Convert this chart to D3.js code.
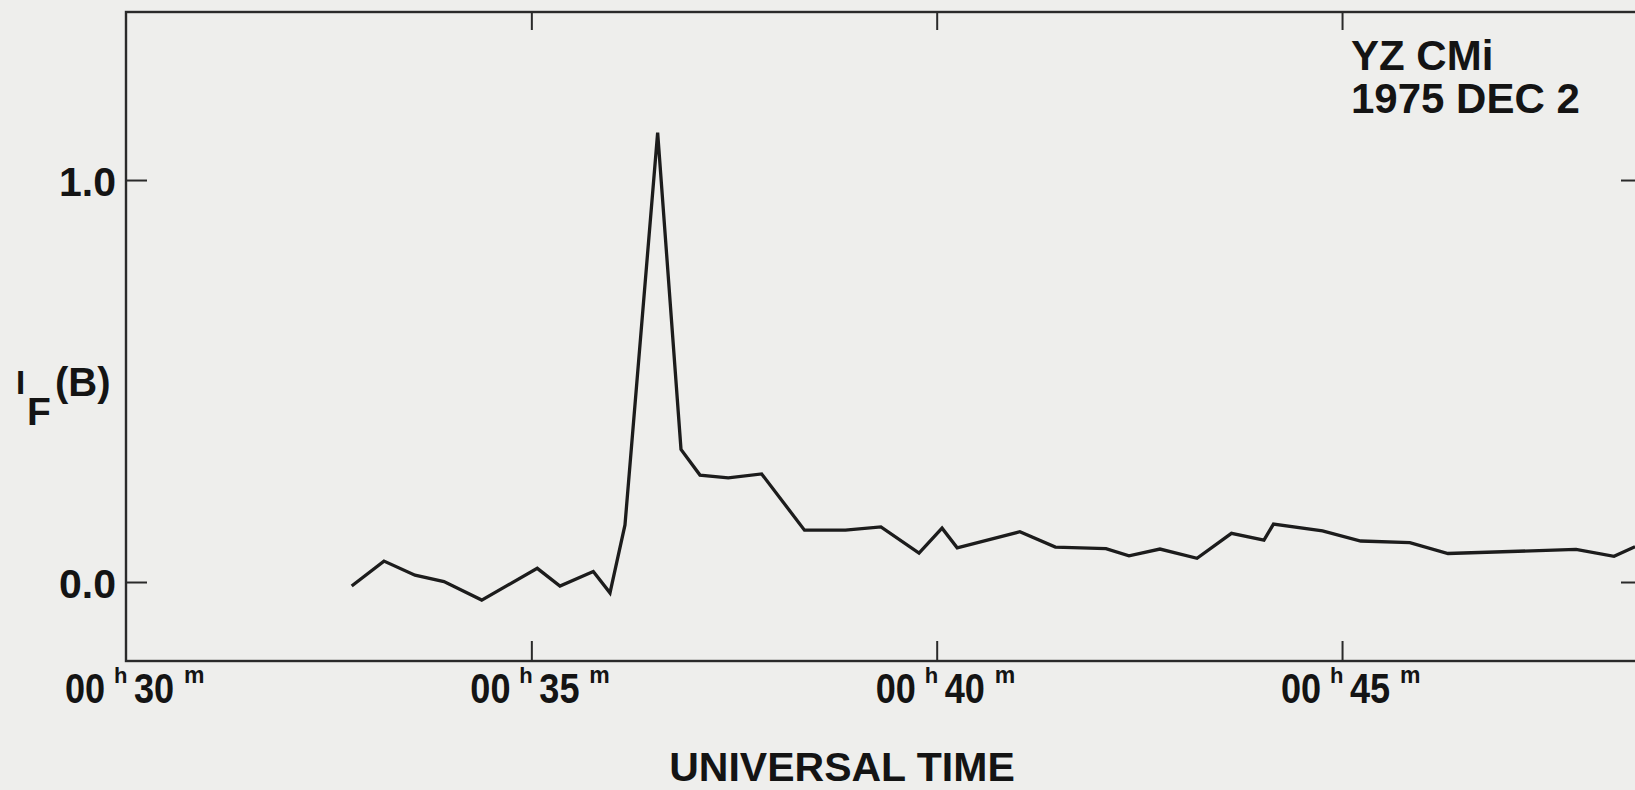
<!DOCTYPE html>
<html>
<head>
<meta charset="utf-8">
<script src="https://cdn.jsdelivr.net/npm/d3@7"></script>
<style>
  html, body { margin: 0; padding: 0; background: #eeeeec; }
  svg { display: block; }
  text { fill: #141414; }
</style>
</head>
<body>
<svg id="chart" width="1635" height="790"></svg>
<script>
// ---- data ----
// time in minutes after 00h UT
const minutes = [32.784, 33.182, 33.565, 33.922, 34.388, 35.073, 35.353, 35.764, 35.970, 36.155,
                 36.558, 36.846, 37.080, 37.429, 37.841, 38.369, 38.874, 39.312, 39.782, 40.066,
                 40.253, 41.026, 41.464, 42.088, 42.372, 42.754, 43.211, 43.636, 44.037, 44.154,
                 44.759, 45.230, 45.836, 46.307, 47.886, 48.355, 48.614];
const intensity = [-0.010, 0.052, 0.017, 0.001, -0.045, 0.034, -0.010, 0.026, -0.027, 0.142,
                   1.118, 0.330, 0.266, 0.259, 0.269, 0.129, 0.129, 0.137, 0.072, 0.134,
                   0.085, 0.125, 0.087, 0.083, 0.065, 0.082, 0.059, 0.121, 0.104, 0.144,
                   0.127, 0.102, 0.098, 0.071, 0.081, 0.064, 0.088];

const xTickMinutes = [35, 40, 45];
const xLabelMinutes = [30, 35, 40, 45];
const xLabelHours = ["00", "00", "00", "00"];
const xLabelMins = ["30", "35", "40", "45"];
const yTickValues = [0.0, 1.0];
const yTickLabels = ["0.0", "1.0"];
const titleLines = ["YZ CMi", "1975 DEC 2"];
const xTitle = "UNIVERSAL TIME";

// ---- layout ----
const L = 126, R = 1642, T = 12, B = 661;
const x = d3.scaleLinear().domain([30, 48.70]).range([L, R]);
const y = d3.scaleLinear().domain([-0.1965, 1.418]).range([B, T]);

const svg = d3.select("#chart");
const ink = "#1c1c1c";
const FONT = "'Liberation Sans', Arial, Helvetica, sans-serif";

svg.append("defs").append("clipPath").attr("id", "plotclip")
  .append("rect").attr("x", L).attr("y", T).attr("width", R - L).attr("height", B - T);

// frame
svg.append("rect").attr("x", L).attr("y", T).attr("width", R - L).attr("height", B - T)
  .attr("fill", "none").attr("stroke", "#2a2a2a").attr("stroke-width", 2.4);

function styleAxis(g) {
  g.select(".domain").remove();
  g.selectAll(".tick line").attr("stroke", "#2a2a2a").attr("stroke-width", 2);
}

svg.append("g").attr("transform", `translate(0,${B})`)
  .call(d3.axisBottom(x).tickValues(xTickMinutes).tickSize(-20).tickFormat(""))
  .call(styleAxis);
svg.append("g").attr("transform", `translate(0,${T})`)
  .call(d3.axisTop(x).tickValues(xTickMinutes).tickSize(-18).tickFormat(""))
  .call(styleAxis);
svg.append("g").attr("transform", `translate(${L},0)`)
  .call(d3.axisLeft(y).tickValues(yTickValues).tickSize(-21).tickFormat(""))
  .call(styleAxis);
svg.append("g").attr("transform", `translate(${R},0)`)
  .call(d3.axisRight(y).tickValues(yTickValues).tickSize(-21).tickFormat(""))
  .call(styleAxis);

// y tick labels
svg.append("g").selectAll("text").data(yTickValues).join("text")
  .attr("x", L - 10).attr("y", d => y(d) + 16)
  .attr("text-anchor", "end")
  .attr("font-family", FONT).attr("font-weight", "bold").attr("font-size", 41)
  .text((d, i) => yTickLabels[i]);

// x tick labels: 00^h 30^m (condensed digits, superscript units)
const sx = 0.86;
const baseY = B + 42;
const lab = svg.append("g").selectAll("g").data(xLabelMinutes).join("g")
  .attr("transform", d => `translate(${x(d)},0)`)
  .attr("font-family", FONT);
lab.append("text")
  .attr("transform", `translate(-61,${baseY}) scale(${sx},1)`)
  .attr("font-size", 42).attr("font-weight", "bold")
  .text((d, i) => xLabelHours[i]);
lab.append("text")
  .attr("x", -12).attr("y", baseY - 20)
  .attr("font-size", 22).attr("font-weight", "bold")
  .text("h");
lab.append("text")
  .attr("transform", `translate(8,${baseY}) scale(${sx},1)`)
  .attr("font-size", 42).attr("font-weight", "bold")
  .text((d, i) => xLabelMins[i]);
lab.append("text")
  .attr("x", 58).attr("y", baseY - 20)
  .attr("font-size", 23).attr("font-weight", "bold")
  .text("m");

// x title
svg.append("text").attr("x", 842).attr("y", 781).attr("text-anchor", "middle")
  .attr("font-family", FONT).attr("font-weight", "bold").attr("font-size", 41)
  .text(xTitle);

// y title I_F(B)
const yt = svg.append("text").attr("font-family", FONT).attr("font-weight", "bold");
yt.append("tspan").attr("x", 16).attr("y", 394).attr("font-size", 33).text("I");
yt.append("tspan").attr("x", 27).attr("y", 425).attr("font-size", 39).text("F");
yt.append("tspan").attr("x", 55).attr("y", 396).attr("font-size", 40).text("(B)");

// star / date annotation
svg.append("g").selectAll("text").data(titleLines).join("text")
  .attr("x", 1351).attr("y", (d, i) => 70 + i * 43)
  .attr("font-family", FONT).attr("font-weight", "bold").attr("font-size", 42)
  .text(d => d);

// light curve
const pts = minutes.map((m, i) => [m, intensity[i]]);
svg.append("path").datum(pts)
  .attr("clip-path", "url(#plotclip)")
  .attr("fill", "none").attr("stroke", ink).attr("stroke-width", 3.3)
  .attr("stroke-linejoin", "miter").attr("stroke-miterlimit", 10)
  .attr("d", d3.line().x(d => x(d[0])).y(d => y(d[1])));
</script>
</body>
</html>
